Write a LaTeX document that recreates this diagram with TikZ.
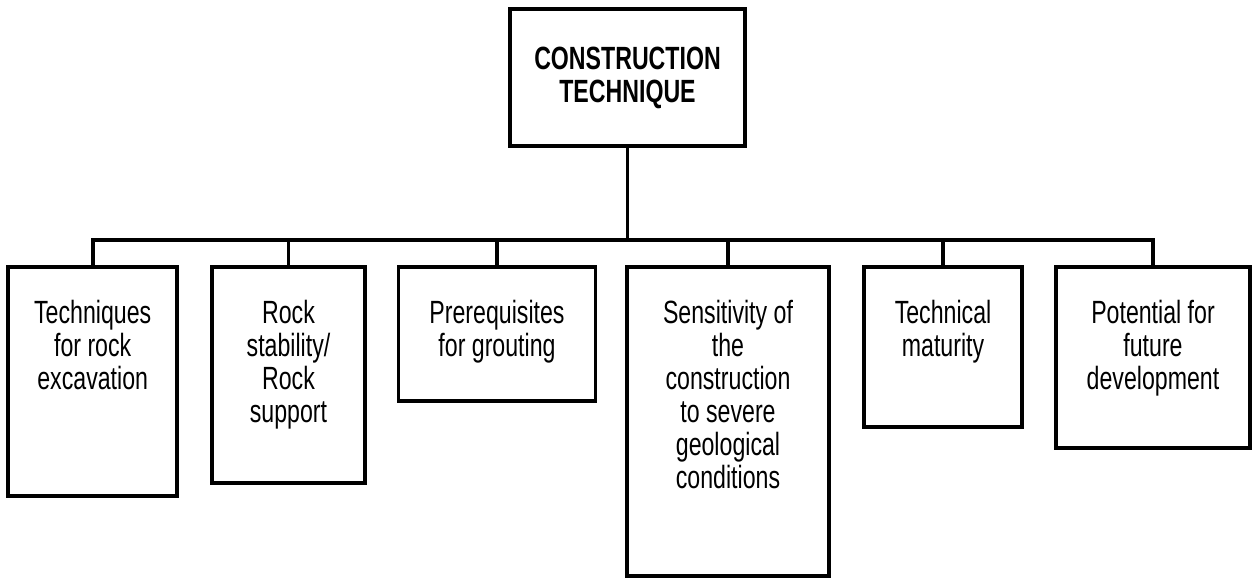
\documentclass[tikz,border=0pt]{standalone}
\usepackage{fontspec}
\setmainfont{Liberation Sans}
\newfontfamily\narrowfont[FakeStretch=0.72]{Liberation Sans}
\usetikzlibrary{positioning}

\begin{document}
\begin{tikzpicture}[x=0.02cm,y=-0.02cm,line width=2.2pt,
    box/.style={draw,rectangle,anchor=north,inner sep=0pt},
    lbl/.style={align=center,inner sep=0pt,font=\narrowfont\fontsize{18.3}{18.8}\selectfont},
    head/.style={draw,rectangle,minimum width=4.70cm,minimum height=2.74cm,
        align=center,font=\narrowfont\bfseries\fontsize{18.3}{18.8}\selectfont}]
                \useasboundingbox (0,0) rectangle (1256,578);
                \node[head] (tech) at (627.5,77.5) {CONSTRUCTION\\TECHNIQUE};
                \node[box,minimum width=3.38cm,minimum height=4.58cm] (excav) at (92.7,265) {};
                \node[box,minimum width=3.06cm,minimum height=4.32cm] (stab) at (288.5,265) {};
                \node[box,minimum width=3.94cm,minimum height=2.68cm] (grout) at (497,265) {};
                \node[box,minimum width=4.04cm,minimum height=6.18cm] (sens) at (728,265) {};
                \node[box,minimum width=3.16cm,minimum height=3.20cm] (matur) at (943,265) {};
                \node[box,minimum width=3.88cm,minimum height=3.62cm] (futur) at (1153,265) {};
                \node[lbl,below=0.66cm of excav.north] (excav-t) {Techniques\\for rock\\excavation};
                \node[lbl,below=0.66cm of stab.north] (stab-t) {Rock\\stability/\\Rock\\support};
                \node[lbl,below=0.66cm of grout.north] (grout-t) {Prerequisites\\for grouting};
                \node[lbl,below=0.66cm of sens.north] (sens-t) {Sensitivity of\\the\\construction\\to severe\\geological\\conditions};
                \node[lbl,below=0.66cm of matur.north] (matur-t) {Technical\\maturity};
                \node[lbl,below=0.66cm of futur.north] (futur-t) {Potential for\\future\\development};
                \coordinate (bus) at (627.5,240);
                \draw (tech) -- (bus);
                \draw (excav.north) -- (excav.north |- bus) -- (futur.north |- bus) -- (futur.north);
                \foreach \c in {stab,grout,sens,matur}
                    \draw (\c.north) -- (\c.north |- bus);
            \end{tikzpicture}
\end{document}
